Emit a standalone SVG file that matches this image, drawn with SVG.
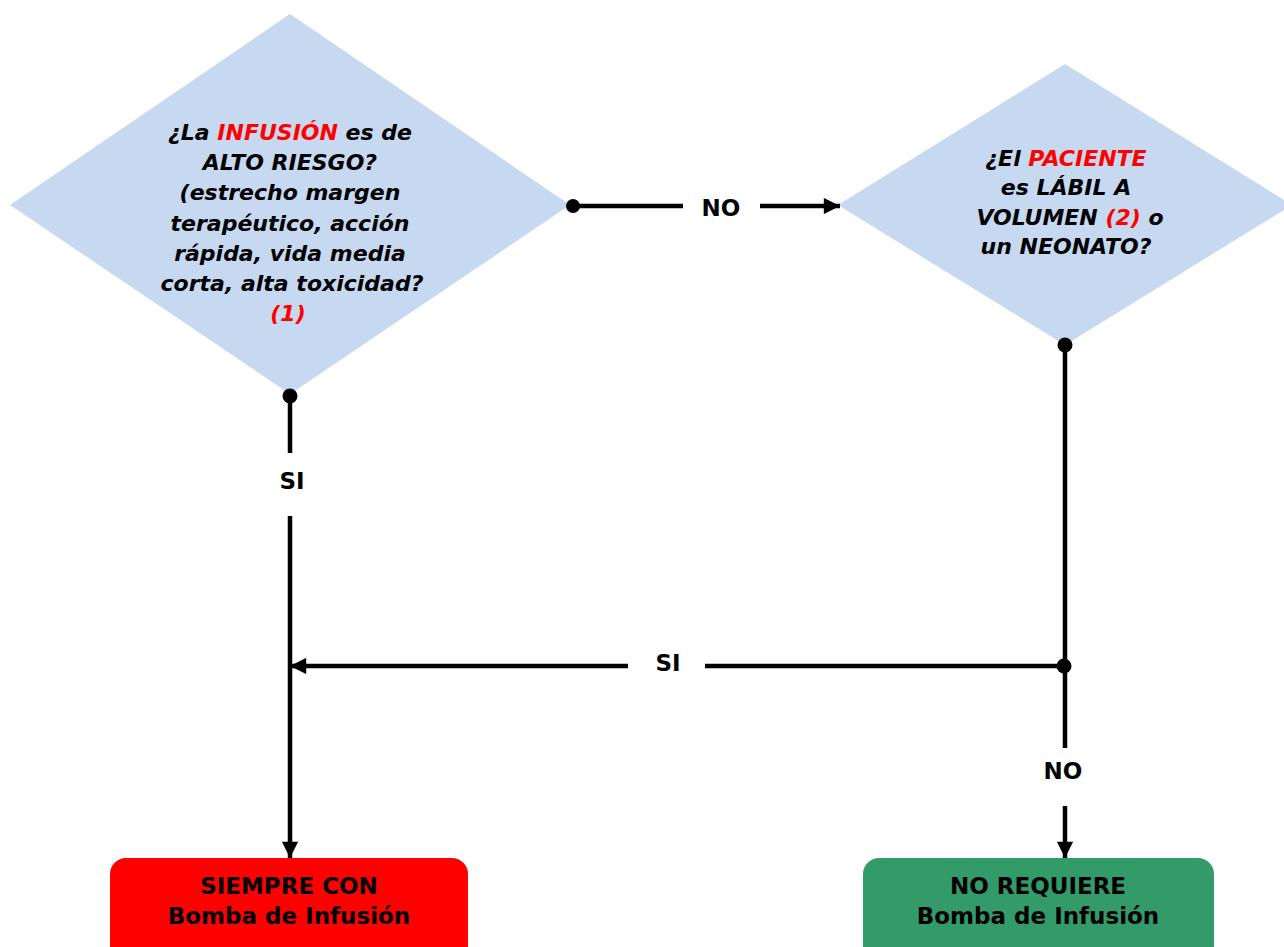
<svg xmlns="http://www.w3.org/2000/svg" width="1284" height="947" viewBox="0 0 1284 947">
<style>
.dia{fill:#C6D9F0;stroke:none}
.q{font-family:"DejaVu Sans",Verdana,sans-serif;font-weight:bold;font-style:italic;font-size:22px;fill:#000;text-anchor:middle}
.r{fill:#FF0000}
.lbl{font-family:"DejaVu Sans",Verdana,sans-serif;font-weight:bold;font-size:23px;fill:#000;text-anchor:middle}
.box{font-family:"DejaVu Sans",Verdana,sans-serif;font-weight:bold;font-size:23px;fill:#000;text-anchor:middle}
.ln{stroke:#000;stroke-width:4.5;fill:none}
</style>
<defs>
<marker id="arr" viewBox="0 0 10 10" refX="10" refY="5" markerWidth="4" markerHeight="3.6" orient="auto" markerUnits="strokeWidth">
<path d="M0,0 L10,5 L0,10 z" fill="#000"/>
</marker>
</defs>
<rect width="1284" height="947" fill="#fff"/>
<g id="node-q1">
<polygon class="dia" points="290,14 570,205 290,394 10,205"/>
<text class="q" x="290" y="140"><tspan>¿La </tspan><tspan class="r">INFUSIÓN</tspan><tspan> es de</tspan></text>
<text class="q" x="290" y="170">ALTO RIESGO?</text>
<text class="q" x="290" y="200">(estrecho margen</text>
<text class="q" x="290" y="231">terapéutico,  acción</text>
<text class="q" x="290" y="261">rápida, vida media</text>
<text class="q" x="292" y="291">corta, alta toxicidad?</text>
<text class="q r" x="288" y="321">(1)</text>
</g>
<g id="node-q2">
<polygon class="dia" points="1065,64 1292,205 1065,345 838,205"/>
<text class="q" x="1066" y="166"><tspan>¿El </tspan><tspan class="r">PACIENTE</tspan></text>
<text class="q" x="1066" y="195">es LÁBIL A</text>
<text class="q" x="1070" y="225"><tspan>VOLUMEN </tspan><tspan class="r">(2)</tspan><tspan>  o</tspan></text>
<text class="q" x="1066" y="254">un NEONATO?</text>
</g>
<g id="node-always">
<rect x="110" y="858" width="358" height="110" rx="16" fill="#FF0000"/>
<text class="box" x="289" y="894">SIEMPRE CON</text>
<text class="box" x="289" y="924">Bomba de Infusión</text>
</g>
<g id="node-notreq">
<rect x="863" y="858" width="351" height="110" rx="16" fill="#339A69"/>
<text class="box" x="1038" y="894">NO REQUIERE</text>
<text class="box" x="1038" y="924">Bomba de Infusión</text>
</g>
<g id="connectors">
<circle cx="573" cy="206" r="7" fill="#000"/>
<line class="ln" x1="573" y1="206" x2="683" y2="206"/>
<line class="ln" x1="760" y1="206" x2="840" y2="206" marker-end="url(#arr)"/>
<text class="lbl" x="721" y="216">NO</text>
<circle cx="290" cy="396" r="7.5" fill="#000"/>
<line class="ln" x1="290" y1="396" x2="290" y2="453"/>
<line class="ln" x1="290" y1="516" x2="290" y2="858" marker-end="url(#arr)"/>
<text class="lbl" x="292" y="489">SI</text>
<circle cx="1065" cy="345" r="7.5" fill="#000"/>
<line class="ln" x1="1065" y1="345" x2="1065" y2="748"/>
<line class="ln" x1="1065" y1="806" x2="1065" y2="858" marker-end="url(#arr)"/>
<text class="lbl" x="1063" y="779">NO</text>
<circle cx="1064" cy="666" r="7.5" fill="#000"/>
<line class="ln" x1="1064" y1="666" x2="705" y2="666"/>
<line class="ln" x1="628" y1="666" x2="290" y2="666" marker-end="url(#arr)"/>
<text class="lbl" x="668" y="671">SI</text>
</g>
</svg>
